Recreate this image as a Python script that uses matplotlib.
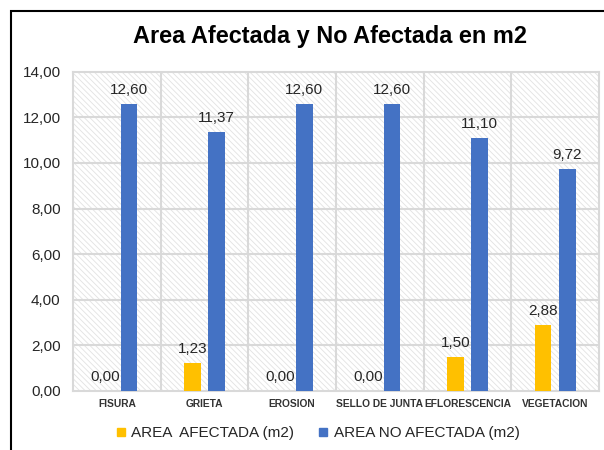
import matplotlib.pyplot as plt
from matplotlib.lines import Line2D
from matplotlib.patches import Rectangle

# data
categories = ["FISURA", "GRIETA", "EROSION", "SELLO DE JUNTA", "EFLORESCENCIA", "VEGETACION"]
afectada = [0.00, 1.23, 0.00, 0.00, 1.50, 2.88]
no_afectada = [12.60, 11.37, 12.60, 12.60, 11.10, 9.72]
series_names = ["AREA  AFECTADA (m2)", "AREA NO AFECTADA (m2)"]

YELLOW = "#FFC000"
BLUE = "#4472C4"
GRID = "#D9D9D9"

plt.rcParams["font.family"] = ["Liberation Sans", "DejaVu Sans"]
plt.rcParams["hatch.linewidth"] = 0.6

fig = plt.figure(figsize=(6.04, 4.5), dpi=100)
ax = fig.add_axes([73 / 604, 1 - 391 / 450, 526 / 604, 319.3 / 450])

# hatched plot background
ax.add_patch(Rectangle((0, 0), 1, 1, transform=ax.transAxes, facecolor="white",
                       edgecolor="#E2E2E2", hatch="\\" * 6, lw=0, zorder=0))

x = list(range(len(categories)))
w = 0.19
off = 0.137
b1 = ax.bar([i - off for i in x], afectada, w, color=YELLOW, zorder=3)
b2 = ax.bar([i + off for i in x], no_afectada, w, color=BLUE, zorder=3)

for bars, vals in ((b1, afectada), (b2, no_afectada)):
    for r, v in zip(bars, vals):
        ax.annotate(f"{v:.2f}".replace(".", ","), (r.get_x() + r.get_width() / 2, v),
                    xytext=(0, 5), textcoords="offset points", ha="center", va="bottom",
                    fontsize=11, color="#262626", zorder=4)

ax.set_xlim(-0.5, len(categories) - 0.5)
ax.set_ylim(0, 14)
ax.set_yticks(range(0, 15, 2))
ax.set_yticklabels([f"{v:.2f}".replace(".", ",") for v in range(0, 15, 2)])
ax.set_xticks(x)
ax.set_xticklabels(categories, fontsize=7.4, fontweight="bold", color="#333333")
ax.tick_params(axis="y", length=0, pad=9, labelsize=11, labelcolor="#262626")
ax.tick_params(axis="x", length=0, pad=6)

for yv in range(2, 14, 2):
    ax.axhline(yv, color=GRID, lw=1.5, zorder=1)
for i in range(1, len(categories)):
    ax.axvline(i - 0.5, color=GRID, lw=1.5, zorder=1)
for s in ax.spines.values():
    s.set_color(GRID)
    s.set_linewidth(1.5)

fig.text(0.547, 1 - 37 / 450, "Area Afectada y No Afectada en m2", ha="center", va="center",
         fontsize=16.9, fontweight="bold", color="black")

handles = [Line2D([], [], marker="s", ls="", color=c, markersize=5.5) for c in (YELLOW, BLUE)]
fig.legend(handles, series_names, loc="center", bbox_to_anchor=(318 / 604, 1 - 433 / 450),
           ncol=2, frameon=False, fontsize=11, handlelength=0.6, handletextpad=0.4,
           columnspacing=1.6, labelcolor="#262626")

# chart border (extends past the right and bottom edges)
fig.patches.append(Rectangle((11 / 604, -0.1), 1.2, 1 - 10.5 / 450 + 0.1,
                             transform=fig.transFigure, fill=False, edgecolor="black", lw=1.5))

fig.savefig("out.png", dpi=100)
